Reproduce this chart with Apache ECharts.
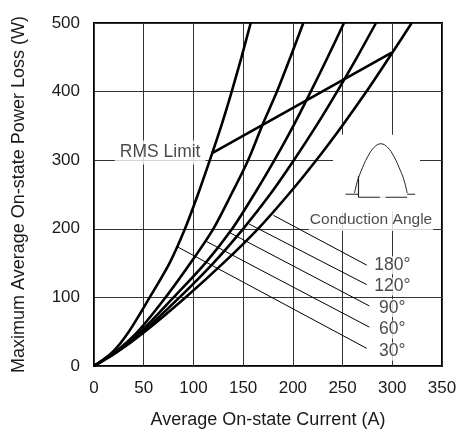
<!DOCTYPE html>
<html><head><meta charset="utf-8">
<script src="https://cdn.jsdelivr.net/npm/echarts@6/dist/echarts.min.js"></script>
<style>html,body{margin:0;padding:0;background:#fff}#c{width:460px;height:434px}</style>
</head><body><div id="c"></div>
<script>
// Power levels (W) at which each curve's average current (A) was read
const powerLevels = [0, 20, 50, 100, 150, 200, 250, 300, 350, 400, 450, 500];
const current30  = [0, 18.5, 35, 56, 76, 91.5, 104.5, 116.5, 128, 138.5, 148.3, 157.6];
const current60  = [0, 21, 44, 72, 97, 120, 138, 155, 169, 184, 197.5, 210.5];
const current90  = [0, 22, 47, 80, 112, 139, 161, 181.5, 200.5, 218, 235, 251.4];
const current120 = [0, 22.5, 49, 86, 120, 150, 177, 201, 223.5, 244.5, 264.5, 283.6];
const current180 = [0, 23, 51, 92, 130, 165, 195.5, 223.5, 249.5, 274, 297, 319.5];

// RMS limit line (current, power)
const rmsLimitX = [118.4, 299.4];
const rmsLimitY = [310, 456.7];

// Leader lines: start on curve, end near label
const leaderNames = ['180°', '120°', '90°', '60°', '30°'];
const leaderStartX = [180.5, 156, 136.1, 112.5, 83.5];
const leaderStartY = [219.6, 207, 194.7, 182, 174];
const leaderEndX = [274.2, 274.3, 276.9, 276.9, 274.3];
const leaderEndY = [147.1, 118.6, 87.6, 56.7, 25.7];
const degreeLabelX = [300, 300, 300, 300, 300];
const degreeLabelY = [147, 116, 84.5, 53, 21];

// Other text labels
const textLabels = ['RMS Limit', 'Conduction Angle'];
const textX = [66.5, 278.6];
const textY = [311.4, 212.9];

// Inset waveform icon (in chart units)
const arcX = [262, 265, 268.6, 275.2, 281.9, 288.5, 295.1, 301.8, 308.4, 312, 315];
const arcY = [252, 270, 284, 305, 319, 324, 319, 305, 284, 270, 252];
const insetBoxX = [240.4, 327.9];
const insetBoxY = [225, 337];

const FONT = '"Liberation Sans", Arial, Helvetica, sans-serif';
const TXT = '#1a1a1a';

function zip(xs, ys) { return xs.map((x, i) => [x, ys[i]]); }
function curveData(cur) { return powerLevels.map((p, i) => [cur[i], p]); }

const curves = [current30, current60, current90, current120, current180];

const series = [];
// white box behind inset
series.push({
  type: 'line', data: [], z: 1, silent: true,
  markArea: {
    silent: true,
    itemStyle: { color: '#fff', opacity: 1 },
    data: [[{ coord: [insetBoxX[0], insetBoxY[1]] }, { coord: [insetBoxX[1], insetBoxY[0]] }]]
  }
});
curves.forEach((c, k) => {
  series.push({
    type: 'line', data: curveData(c), smooth: 0.3,
    showSymbol: false, symbol: 'none', z: 4,
    lineStyle: { color: '#000', width: 2.6 }
  });
});
series.push({
  type: 'line', data: zip(rmsLimitX, rmsLimitY), showSymbol: false, symbol: 'none', z: 4,
  lineStyle: { color: '#000', width: 2.6 }
});
leaderNames.forEach((n, k) => {
  series.push({
    type: 'line', data: [[leaderStartX[k], leaderStartY[k]], [leaderEndX[k], leaderEndY[k]]],
    showSymbol: false, symbol: 'none', z: 3,
    lineStyle: { color: '#000', width: 1 }
  });
});
// inset waveform
series.push({ type: 'line', data: zip(arcX, arcY), smooth: 0.4, showSymbol: false, symbol: 'none', z: 3, lineStyle: { color: '#222', width: 1 } });
series.push({ type: 'line', data: [[266, 246], [315, 246]], showSymbol: false, symbol: 'none', z: 3, lineStyle: { color: '#222', width: 1.2 } });
series.push({ type: 'line', data: [[266, 246], [266, 277]], showSymbol: false, symbol: 'none', z: 3, lineStyle: { color: '#222', width: 1.2 } });
series.push({ type: 'line', data: [[253, 250.4], [266, 250.4]], showSymbol: false, symbol: 'none', z: 3, lineStyle: { color: '#222', width: 1 } });
series.push({ type: 'line', data: [[315, 250.4], [323, 250.4]], showSymbol: false, symbol: 'none', z: 3, lineStyle: { color: '#222', width: 1 } });
series.push({ type: 'scatter', data: [[290.4, 246]], symbol: 'emptyCircle', symbolSize: 4, z: 5, itemStyle: { color: '#fff', borderColor: '#222', borderWidth: 1 } });

// text labels
const labelItems = [];
textLabels.forEach((t, i) => {
  labelItems.push({
    value: [textX[i], textY[i]],
    label: {
      formatter: t, fontSize: i === 0 ? 17.5 : 15.5,
      padding: i === 0 ? [3, 5, 3, 5] : [3, 1, 3, 1]
    }
  });
});
leaderNames.forEach((t, i) => {
  labelItems.push({
    value: [degreeLabelX[i], degreeLabelY[i]],
    label: { formatter: t, fontSize: 17.5, padding: [0, 1, 0, 1] }
  });
});
series.push({
  type: 'scatter', data: labelItems, symbolSize: 1, z: 6,
  itemStyle: { color: 'rgba(0,0,0,0)' },
  label: {
    show: true, position: 'inside', color: TXT, fontFamily: FONT,
    backgroundColor: '#fff'
  }
});

const chart = echarts.init(document.getElementById('c'), null, { renderer: 'canvas' });
chart.setOption({
  animation: false,
  backgroundColor: '#fff',
  grid: { left: 94, right: 18, top: 23, bottom: 61, show: true, borderColor: '#000', borderWidth: 2, backgroundColor: 'transparent' },
  xAxis: {
    type: 'value', min: 0, max: 350, interval: 50,
    name: 'Average On-state Current (A)', nameLocation: 'middle', nameGap: 45,
    nameTextStyle: { fontSize: 18, color: TXT, fontFamily: FONT },
    axisLine: { show: false }, axisTick: { show: false },
    axisLabel: { fontSize: 17, color: TXT, margin: 14, fontFamily: FONT },
    splitLine: { show: true, lineStyle: { color: '#333', width: 1 } }
  },
  yAxis: {
    type: 'value', min: 0, max: 500, interval: 100,
    name: 'Maximum Average On-state Power Loss (W)', nameLocation: 'middle', nameGap: 66,
    nameTextStyle: { fontSize: 18, color: TXT, fontFamily: FONT },
    axisLine: { show: false }, axisTick: { show: false },
    axisLabel: { fontSize: 17, color: TXT, margin: 14, fontFamily: FONT },
    splitLine: { show: true, lineStyle: { color: '#333', width: 1 } }
  },
  series: series
});
</script></body></html>
